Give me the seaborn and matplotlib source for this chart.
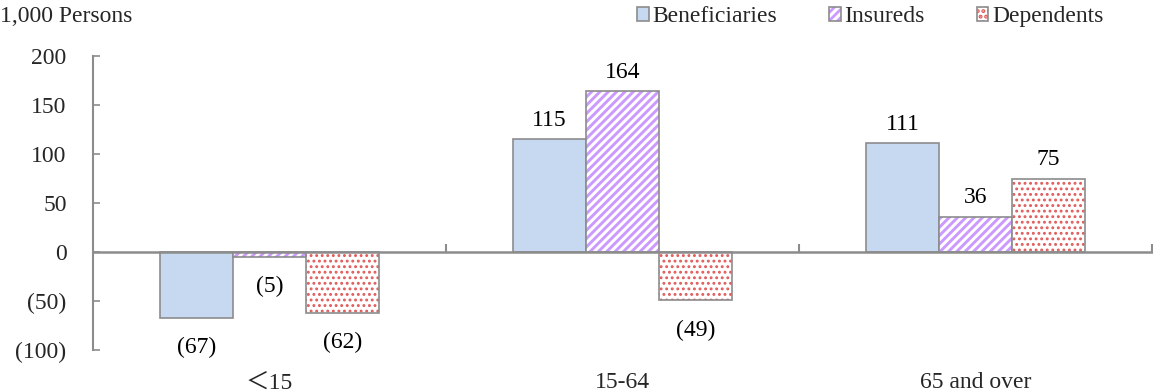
import matplotlib
matplotlib.use("Agg")
import matplotlib.pyplot as plt
import matplotlib.colors as mcolors
import seaborn as sns
import pandas as pd

# ---- data ----
categories = ["＜15", "15-64", "65 and over"]
series = ["Beneficiaries", "Insureds", "Dependents"]
beneficiaries = [-67, 115, 111]
insureds = [-5, 164, 36]
dependents = [-62, -49, 75]
y_ticks = [-100, -50, 0, 50, 100, 150, 200]
unit_label = "1,000 Persons"

values = {"Beneficiaries": beneficiaries, "Insureds": insureds, "Dependents": dependents}
rows = []
for s in series:
    for c, v in zip(categories, values[s]):
        rows.append({"Age": c, "Series": s, "Change": v})
df = pd.DataFrame(rows)

sns.set_theme(style="white")
plt.rcParams["font.family"] = ["Liberation Serif", "Noto Sans CJK JP", "DejaVu Sans"]
plt.rcParams["hatch.linewidth"] = 2.0

FS = 17
GRAY = "#8C8C8C"
face = {"Beneficiaries": "#C6D9F0", "Insureds": "white", "Dependents": "white"}
hatch = {"Beneficiaries": "", "Insureds": "////", "Dependents": "..."}
hatch_col = {"Beneficiaries": GRAY, "Insureds": "#CC99FF", "Dependents": "#E05A5A"}
hatch_lw = {"Beneficiaries": 1.0, "Insureds": 2.1, "Dependents": 1.3}

fig = plt.figure(figsize=(11.53, 3.92), dpi=100)
ax = fig.add_axes([93 / 1153, 42 / 392, 1059 / 1153, 294 / 392])

sns.barplot(data=df, x="Age", y="Change", hue="Series", order=categories,
            hue_order=series, palette=[face[s] for s in series], width=0.62,
            edgecolor=GRAY, linewidth=1.2, saturation=1, ax=ax, legend=False)

for cont, s in zip(ax.containers, series):
    for bar, v in zip(cont.patches, values[s]):
        bar.set_facecolor(face[s])
        bar.set_edgecolor(GRAY)
        bar.set_hatch(hatch[s])
        bar._hatch_color = mcolors.to_rgba(hatch_col[s])
        if hasattr(bar, "set_hatch_linewidth"):
            bar.set_hatch_linewidth(hatch_lw[s])
        else:
            bar._hatch_linewidth = hatch_lw[s]
        xc = bar.get_x() + bar.get_width() / 2
        if v >= 0:
            ax.annotate(f"{int(v)}", (xc, bar.get_y() + bar.get_height()),
                        xytext=(0, 6), textcoords="offset points",
                        ha="center", va="bottom", fontsize=FS, color="black")
        else:
            ax.annotate(f"({int(-v)})", (xc, min(bar.get_y(), bar.get_y() + bar.get_height())),
                        xytext=(0, -14), textcoords="offset points",
                        ha="center", va="top", fontsize=FS, color="black")

ax.set_xlim(-0.5, 2.5)
ax.set_ylim(-100, 200)
ax.set_yticks(y_ticks)
ax.set_yticklabels([f"{v}" if v >= 0 else f"({-v})" for v in y_ticks], fontsize=FS)
ax.tick_params(axis="y", direction="in", length=5, width=1.2, color=GRAY, pad=19, left=True)

for side in ["top", "right"]:
    ax.spines[side].set_visible(False)
ax.spines["left"].set_color(GRAY)
ax.spines["left"].set_linewidth(1.5)
ax.spines["bottom"].set_position(("data", 0))
ax.spines["bottom"].set_color(GRAY)
ax.spines["bottom"].set_linewidth(1.8)

ax.set_xticks([0.5, 1.5, 2.5])
ax.tick_params(axis="x", direction="in", length=6, width=1.5, color=GRAY,
               labelbottom=False, bottom=True)
ax.set_xlabel("")
ax.set_ylabel("")

sec = ax.secondary_xaxis("bottom")
sec.set_xticks(range(len(categories)))
sec.set_xticklabels(categories, fontsize=FS)
sec.tick_params(axis="x", length=0, pad=16)
sec.spines["bottom"].set_visible(False)

handles = list(ax.containers)
leg = fig.legend(handles, series, loc="upper right", bbox_to_anchor=(1106 / 1153, 1 - 4 / 392),
                 ncol=3, frameon=False, fontsize=FS, handlelength=0.48, handleheight=0.48,
                 handletextpad=0.17, columnspacing=2.2, borderaxespad=0, borderpad=0.1)

fig.text(0.0, 1 - 16 / 392, unit_label, fontsize=FS, va="center", ha="left")

fig.savefig("out.png", dpi=100)
